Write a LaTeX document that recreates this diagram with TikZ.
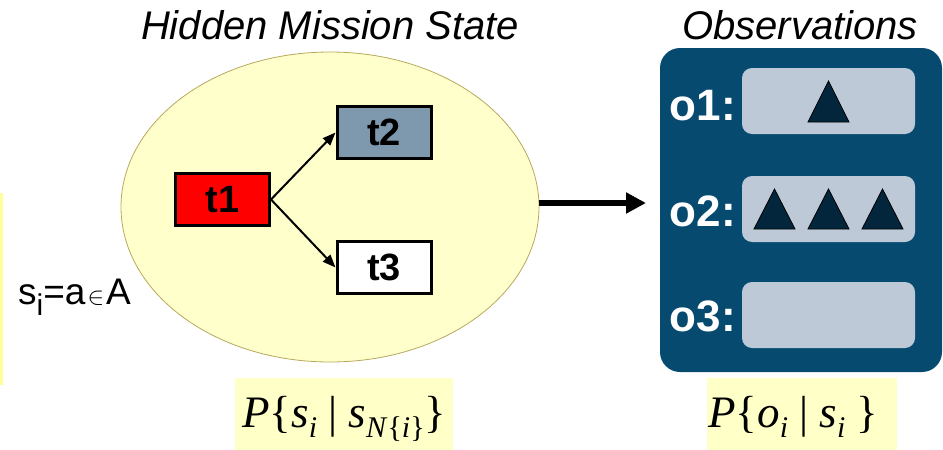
\documentclass[tikz,border=0pt]{standalone}
\usepackage{fontspec}
\setmainfont{Liberation Sans}
\newfontfamily\tnr{Liberation Serif}
\usetikzlibrary{shapes.geometric,arrows.meta}
\definecolor{ellfill}{HTML}{FFFFCC}
\definecolor{elldraw}{HTML}{B8A85C}
\definecolor{obsblue}{HTML}{064A70}
\definecolor{slotgray}{HTML}{BDC9D6}
\definecolor{tridark}{HTML}{03263C}
\definecolor{slate}{HTML}{7E98AE}
\definecolor{formfill}{HTML}{FFFFC8}
\definecolor{stripy}{HTML}{FFFF99}
\newcommand\mysub[1]{\raisebox{-10pt}{\fontsize{30}{30}\selectfont #1}}
\tikzset{
  tbox/.style={draw=black, line width=3pt, minimum width=94pt, minimum height=52pt, inner sep=0pt, font=\fontsize{38}{40}\selectfont\bfseries},
  olabel/.style={anchor=base east, inner sep=0pt, text=white, font=\fontsize{44}{48}\selectfont\bfseries},
  tri/.style={fill=tridark, draw=black, line width=0.8pt},
  title/.style={anchor=base, inner sep=0pt, font=\fontsize{40}{44}\selectfont\itshape},
  smallarrow/.style={line width=2pt, -{Triangle[length=13pt,width=10pt]}},
}
\begin{document}
\begin{tikzpicture}[x=1pt,y=-1pt]
\useasboundingbox (0,0) rectangle (943,450);
% left strip
\fill[stripy] (0,193) rectangle (3,385);
% titles
\node[title] (tl) at (330,39) {Hidden Mission State};
\node[title] (tr) at (800,39) {Observations};
% ellipse
\node[ellipse, fill=ellfill, draw=elldraw, line width=0.8pt, minimum width=418pt, minimum height=310pt, inner sep=0pt] (ell) at (330,207) {};
% task boxes
\node[tbox, fill=red] (t1) at (222.5,199.5) {t1};
\node[tbox, fill=slate] (t2) at (384,132.5) {t2};
\node[tbox, fill=white] (t3) at (384,267.5) {t3};
\draw[smallarrow] (t1.east) -- (t2.west);
\draw[smallarrow] (t1.east) -- (t3.west);
% s_i label
\node[anchor=base west, inner sep=0pt, font=\fontsize{37}{40}\selectfont] (si) at (18,304) {s\raisebox{-11pt}{\fontsize{30}{30}\selectfont i}=a\hspace{2pt}{\fontsize{30}{30}\selectfont$\in$}\hspace{2pt}A};
% observations panel
\fill[obsblue, rounded corners=20pt] (660,48) rectangle (942,372);
\fill[slotgray, rounded corners=10pt] (742,68) rectangle (915,134);
\fill[slotgray, rounded corners=10pt] (742,176) rectangle (915,242);
\fill[slotgray, rounded corners=10pt] (742,282) rectangle (915,348);
\node[olabel] (o1) at (736,120) {o1:};
\node[olabel] (o2) at (736,226) {o2:};
\node[olabel] (o3) at (736,331) {o3:};
\draw[tri] (808,122) -- (828.5,81) -- (849,122) -- cycle;
\draw[tri] (754,229) -- (774.5,189) -- (795,229) -- cycle;
\draw[tri] (808,229) -- (828.5,189) -- (849,229) -- cycle;
\draw[tri] (862,229) -- (882.5,189) -- (903,229) -- cycle;
% big arrow
\coordinate (bigB) at (646,203);
\draw[line width=6pt, -{Triangle[length=20pt,width=20pt]}] (ell.east |- bigB) -- (bigB);
% formula boxes
\fill[formfill] (235,378) rectangle (453,450);
\fill[formfill] (707,378) rectangle (897,450);
\node[anchor=base west, inner sep=0pt, font=\tnr\fontsize{45}{48}\selectfont] (f1) at (242,427) {\textit{P}\{\textit{s}\mysub{\textit{i}}\ |\ \textit{s}\mysub{\textit{N}\{\textit{i}\}}\}};
\node[anchor=base west, inner sep=0pt, font=\tnr\fontsize{45}{48}\selectfont] (f2) at (708,427) {\textit{P}\{\textit{o}\mysub{\textit{i}}\ |\ \textit{s}\mysub{\textit{i}}\ \}};
\end{tikzpicture}
\end{document}
